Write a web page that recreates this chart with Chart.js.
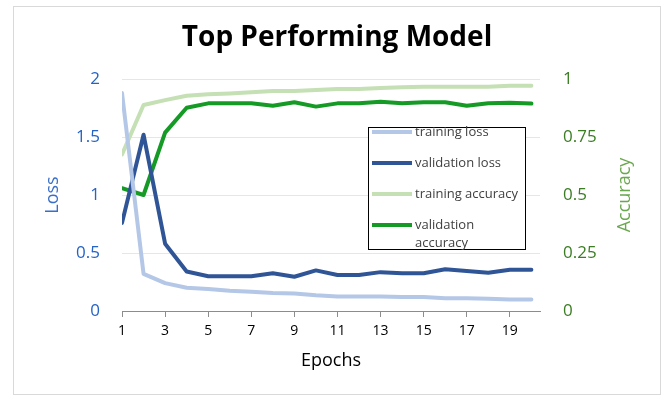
<!DOCTYPE html>
<html>
<head>
<meta charset="utf-8">
<script src="https://cdn.jsdelivr.net/npm/chart.js@4/dist/chart.umd.min.js"></script>
<style>
    html, body { margin: 0; padding: 0; background: #ffffff; }
    #wrap { width: 664px; height: 398px; }
</style>
</head>
<body>
<div id="wrap"><canvas id="modelchart" width="664" height="398"></canvas></div>
<script>
// values
var epochs = [1, 2, 3, 4, 5, 6, 7, 8, 9, 10, 11, 12, 13, 14, 15, 16, 17, 18, 19, 20];
var epochTicks = [1, 3, 5, 7, 9, 11, 13, 15, 17, 19];
var trainingLoss = [1.88, 0.32, 0.24, 0.20, 0.19, 0.175, 0.165, 0.155, 0.15, 0.135, 0.125, 0.125, 0.125, 0.12, 0.12, 0.11, 0.11, 0.105, 0.10, 0.10];
var validationLoss = [0.76, 1.52, 0.58, 0.34, 0.30, 0.30, 0.30, 0.325, 0.295, 0.35, 0.31, 0.31, 0.335, 0.325, 0.325, 0.36, 0.345, 0.33, 0.355, 0.355];
var trainingAccuracy = [0.675, 0.888, 0.909, 0.928, 0.934, 0.938, 0.943, 0.948, 0.948, 0.953, 0.957, 0.957, 0.961, 0.964, 0.967, 0.967, 0.967, 0.967, 0.971, 0.971];
var validationAccuracy = [0.529, 0.50, 0.769, 0.876, 0.895, 0.895, 0.895, 0.885, 0.90, 0.881, 0.895, 0.895, 0.902, 0.895, 0.90, 0.90, 0.885, 0.895, 0.898, 0.894];

var FONT = '"Open Sans", "Liberation Sans", sans-serif';

// white background + thin grey frame like the spreadsheet chart
const framePlugin = {
    id: 'frame',
    beforeDraw(chart) {
        const ctx = chart.ctx;
        ctx.save();
        ctx.fillStyle = '#ffffff';
        ctx.fillRect(0, 0, chart.width, chart.height);
        ctx.strokeStyle = '#d9d9d9';
        ctx.lineWidth = 1;
        ctx.strokeRect(13.5, 6.5, 647, 388);
        ctx.restore();
    }
};

// right axis title reads bottom to top
const accuracyTitlePlugin = {
    id: 'accTitle',
    afterDraw(chart) {
        const ctx = chart.ctx;
        const area = chart.chartArea;
        ctx.save();
        ctx.translate(625, (area.top + area.bottom) / 2);
        ctx.rotate(-Math.PI / 2);
        ctx.font = '18px ' + FONT;
        ctx.fillStyle = '#6aa84f';
        ctx.textAlign = 'center';
        ctx.textBaseline = 'middle';
        ctx.fillText('Accuracy', 0, 0);
        ctx.restore();
    }
};

// boxed legend sitting inside the plot
const boxLegendPlugin = {
    id: 'boxLegend',
    afterDatasetsDraw(chart) {
        const ctx = chart.ctx;
        ctx.save();
        ctx.fillStyle = '#ffffff';
        ctx.fillRect(368, 127, 158, 123);
        ctx.strokeStyle = '#000000';
        ctx.lineWidth = 1;
        ctx.strokeRect(368.5, 127.5, 157, 122);
        ctx.font = '13px ' + FONT;
        ctx.textBaseline = 'middle';
        chart.data.datasets.forEach(function (ds, i) {
            const y = 132 + i * 31;
            ctx.strokeStyle = ds.borderColor;
            ctx.lineWidth = 4;
            ctx.beginPath();
            ctx.moveTo(372, y);
            ctx.lineTo(412, y);
            ctx.stroke();
            ctx.fillStyle = '#404040';
            let text = ds.label;
            if (ctx.measureText(text).width > 108) {
                const parts = text.split(' ');
                ctx.fillText(parts[0], 415, y);
                ctx.fillText(parts.slice(1).join(' '), 415, y + 18);
            } else {
                ctx.fillText(text, 415, y);
            }
        });
        ctx.restore();
    }
};

function plainNumber(value) {
    return String(value);
}

new Chart(document.getElementById('modelchart'), {
    type: 'line',
    data: {
        labels: epochs,
        datasets: [
            { label: 'training loss', data: trainingLoss, borderColor: '#b4c7e7', yAxisID: 'loss' },
            { label: 'validation loss', data: validationLoss, borderColor: '#2f5597', yAxisID: 'loss' },
            { label: 'training accuracy', data: trainingAccuracy, borderColor: '#c5e0b4', yAxisID: 'acc' },
            { label: 'validation accuracy', data: validationAccuracy, borderColor: '#159a26', yAxisID: 'acc' }
        ]
    },
    options: {
        responsive: false,
        animation: false,
        layout: { padding: { left: 10, right: 0, top: 0, bottom: 0 } },
        elements: {
            line: { borderWidth: 4, tension: 0, borderCapStyle: 'round', borderJoinStyle: 'round' },
            point: { radius: 0 }
        },
        plugins: {
            legend: { display: false },
            tooltip: { enabled: false },
            title: {
                display: true,
                text: 'Top Performing Model',
                color: '#000000',
                font: { family: FONT, size: 28, weight: 'bold', lineHeight: 1.2 },
                padding: { top: 21, bottom: 24.4 }
            }
        },
        scales: {
            x: {
                type: 'linear',
                min: 1,
                max: 20.4,
                afterBuildTicks: function (scale) {
                    scale.ticks = epochTicks.map(function (v) { return { value: v }; });
                },
                afterFit: function (scale) { scale.height = 87; },
                grid: { drawOnChartArea: false, drawTicks: true, tickLength: 6, color: '#8c8c8c' },
                border: { color: '#8c8c8c', width: 1 },
                ticks: { color: '#000000', font: { family: FONT, size: 14 }, padding: 6, maxRotation: 0, autoSkip: false },
                title: {
                    display: true, text: 'Epochs', color: '#000000',
                    font: { family: FONT, size: 18 }, padding: { top: 0, bottom: 26 }
                }
            },
            loss: {
                type: 'linear',
                position: 'left',
                min: 0,
                max: 2,
                afterFit: function (scale) { scale.width = 112; },
                ticks: { stepSize: 0.5, color: '#2563c6', font: { family: FONT, size: 17 }, padding: 22, callback: plainNumber },
                grid: { color: '#e6e6e6', drawTicks: false },
                border: { display: false },
                title: {
                    display: true, text: 'Loss', color: '#3a6fc9',
                    font: { family: FONT, size: 18 }, padding: { top: 32, bottom: 0 }
                }
            },
            acc: {
                type: 'linear',
                position: 'right',
                min: 0,
                max: 1,
                afterFit: function (scale) { scale.width = 124; },
                ticks: { stepSize: 0.25, color: '#3b7d23', font: { family: FONT, size: 17 }, padding: 23, callback: plainNumber },
                grid: { drawOnChartArea: false, drawTicks: false },
                border: { display: false }
            }
        }
    },
    plugins: [framePlugin, boxLegendPlugin, accuracyTitlePlugin]
});
</script>
</body>
</html>
